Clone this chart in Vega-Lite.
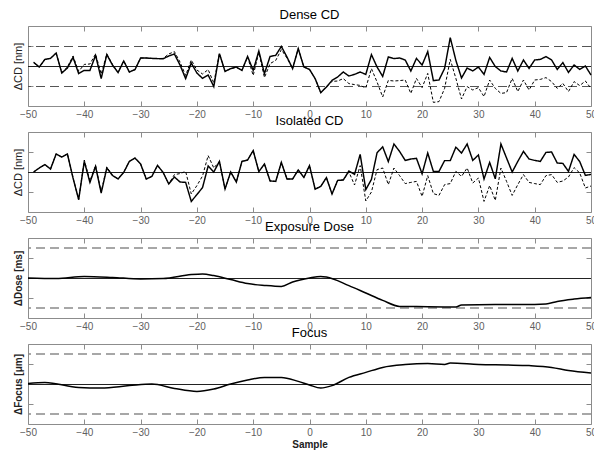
{
  "$schema": "https://vega.github.io/schema/vega-lite/v6.json",
  "padding": {"left": 12, "top": 8, "right": 0, "bottom": 0},
  "spacing": 26,
  "bounds": "flush",
  "config": {
    "view": {"stroke": "#8c8c8c", "strokeWidth": 1},
    "font": "Liberation Sans",
    "axis": {"grid": false, "domain": false, "tickColor": "#8c8c8c", "tickSize": -5, "labelPadding": 8, "labelFont": "Liberation Sans", "labelFontSize": 10, "labelColor": "#606060", "titleFont": "Liberation Sans", "titleColor": "#222222", "labelFlush": false, "labelOverlap": false},
    "title": {"fontSize": 13, "fontWeight": "normal", "font": "Liberation Sans", "color": "#000000", "offset": 4}
  },
  "datasets": {
    "dense": [
      {"s":-49,"a":0.18,"b":0.18},{"s":-48,"a":-0.05,"b":-0.05},{"s":-47,"a":0.33,"b":0.33},{"s":-46,"a":0.38,"b":0.38},{"s":-45,"a":0.65,"b":0.65},
      {"s":-44,"a":-0.35,"b":-0.33},{"s":-43,"a":-0.1,"b":-0.05},{"s":-42,"a":0.43,"b":0.5},{"s":-41,"a":-0.38,"b":-0.27},{"s":-40,"a":-0.22,"b":0.08},
      {"s":-39,"a":-0.22,"b":0.1},{"s":-38,"a":0.53,"b":0.6},{"s":-37,"a":-0.63,"b":-0.4},{"s":-36,"a":0.57,"b":0.6},{"s":-35,"a":0.05,"b":0.08},
      {"s":-34,"a":-0.33,"b":-0.3},{"s":-33,"a":0.25,"b":0.25},{"s":-32,"a":-0.3,"b":-0.3},{"s":-31,"a":-0.18,"b":-0.18},{"s":-30,"a":0.4,"b":0.4},
      {"s":-29,"a":0.4,"b":0.4},{"s":-28,"a":0.38,"b":0.38},{"s":-27,"a":0.37,"b":0.37},{"s":-26,"a":0.36,"b":0.38},{"s":-25,"a":0.5,"b":0.6},
      {"s":-24,"a":0.6,"b":0.72},{"s":-23,"a":0.05,"b":0.2},{"s":-22,"a":-0.63,"b":-0.47},{"s":-21,"a":0.15,"b":0.3},{"s":-20,"a":-0.35,"b":-0.2},
      {"s":-19,"a":-0.62,"b":-0.4},{"s":-18,"a":-0.45,"b":-0.18},{"s":-17,"a":-1.03,"b":-0.85},{"s":-16,"a":0.62,"b":0.62},{"s":-15,"a":-0.27,"b":-0.27},
      {"s":-14,"a":-0.13,"b":-0.13},{"s":-13,"a":-0.05,"b":-0.07},{"s":-12,"a":-0.22,"b":-0.22},{"s":-11,"a":0.48,"b":0.45},{"s":-10,"a":-0.22,"b":-0.47},
      {"s":-9,"a":0.75,"b":0.68},{"s":-8,"a":-0.38,"b":-0.58},{"s":-7,"a":0.48,"b":0.12},{"s":-6,"a":0.53,"b":0.28},{"s":-5,"a":0.98,"b":0.82},
      {"s":-4,"a":0.45,"b":0.4},{"s":-3,"a":-0.13,"b":-0.13},{"s":-2,"a":0.87,"b":0.87},{"s":-1,"a":-0.05,"b":-0.05},{"s":0,"a":-0.17,"b":-0.17},
      {"s":1,"a":-0.63,"b":-0.63},{"s":2,"a":-1.33,"b":-1.33},{"s":3,"a":-1.05,"b":-1.05},{"s":4,"a":-0.72,"b":-0.77},{"s":5,"a":-0.55,"b":-0.75},
      {"s":6,"a":-0.3,"b":-0.63},{"s":7,"a":-0.5,"b":-0.88},{"s":8,"a":-0.42,"b":-0.93},{"s":9,"a":-0.3,"b":-0.97},{"s":10,"a":-0.42,"b":-1.1},
      {"s":11,"a":0.57,"b":-0.13},{"s":12,"a":-0.05,"b":-0.8},{"s":13,"a":-0.52,"b":-1.55},{"s":14,"a":0.45,"b":-0.72},{"s":15,"a":0.37,"b":-0.75},
      {"s":16,"a":0.4,"b":-0.73},{"s":17,"a":0.3,"b":-0.7},{"s":18,"a":-0.25,"b":-1.37},{"s":19,"a":0.38,"b":-0.62},{"s":20,"a":0.05,"b":-1.08},
      {"s":21,"a":0.72,"b":-0.37},{"s":22,"a":-0.73,"b":-1.82},{"s":23,"a":-0.7,"b":-1.78},{"s":24,"a":-0.12,"b":-1.12},{"s":25,"a":1.42,"b":0.33},
      {"s":26,"a":0.28,"b":-0.62},{"s":27,"a":-0.6,"b":-1.65},{"s":28,"a":-0.1,"b":-1.03},{"s":29,"a":-0.25,"b":-1.2},{"s":30,"a":-0.05,"b":-1.08},
      {"s":31,"a":-0.42,"b":-1.53},{"s":32,"a":0.43,"b":-0.7},{"s":33,"a":-0.03,"b":-1.12},{"s":34,"a":-0.25,"b":-1.37},{"s":35,"a":-0.3,"b":-1.33},
      {"s":36,"a":0.38,"b":-0.62},{"s":37,"a":-0.25,"b":-1.28},{"s":38,"a":0.3,"b":-0.7},{"s":39,"a":-0.12,"b":-1.2},{"s":40,"a":0.3,"b":-0.7},
      {"s":41,"a":0.33,"b":-0.67},{"s":42,"a":0.47,"b":-0.58},{"s":43,"a":0.3,"b":-0.78},{"s":44,"a":-0.17,"b":-1.12},{"s":45,"a":0.17,"b":-0.87},
      {"s":46,"a":-0.32,"b":-1.28},{"s":47,"a":0.05,"b":-0.78},{"s":48,"a":-0.17,"b":-0.98},{"s":49,"a":0.0,"b":-0.75},{"s":50,"a":-0.45,"b":-1.12}
    ],
    "iso": [
      {"s":-49,"a":0.0,"b":0.0},{"s":-48,"a":0.2,"b":0.2},{"s":-47,"a":0.37,"b":0.37},{"s":-46,"a":0.15,"b":0.15},{"s":-45,"a":0.9,"b":0.9},
      {"s":-44,"a":0.75,"b":0.75},{"s":-43,"a":0.9,"b":0.9},{"s":-42,"a":-0.3,"b":-0.3},{"s":-41,"a":-1.38,"b":-1.38},{"s":-40,"a":0.53,"b":0.6},
      {"s":-39,"a":-0.52,"b":-0.45},{"s":-38,"a":0.28,"b":0.33},{"s":-37,"a":-1.05,"b":-1.0},{"s":-36,"a":0.2,"b":0.25},{"s":-35,"a":-0.17,"b":-0.17},
      {"s":-34,"a":-0.35,"b":-0.35},{"s":-33,"a":-0.02,"b":-0.02},{"s":-32,"a":0.53,"b":0.53},{"s":-31,"a":0.7,"b":0.7},{"s":-30,"a":0.4,"b":0.4},
      {"s":-29,"a":-0.35,"b":-0.35},{"s":-28,"a":-0.22,"b":-0.22},{"s":-27,"a":0.33,"b":0.33},{"s":-26,"a":-0.02,"b":-0.02},{"s":-25,"a":-0.6,"b":-0.6},
      {"s":-24,"a":-0.25,"b":-0.13},{"s":-23,"a":-0.5,"b":-0.08},{"s":-22,"a":-0.52,"b":0.03},{"s":-21,"a":-1.47,"b":-1.1},{"s":-20,"a":-1.13,"b":-0.68},
      {"s":-19,"a":-0.78,"b":-0.2},{"s":-18,"a":0.3,"b":0.82},{"s":-17,"a":0.0,"b":0.2},{"s":-16,"a":0.53,"b":0.53},{"s":-15,"a":-0.85,"b":-0.85},
      {"s":-14,"a":0.0,"b":0.0},{"s":-13,"a":-0.5,"b":-0.5},{"s":-12,"a":0.53,"b":0.53},{"s":-11,"a":0.6,"b":0.6},{"s":-10,"a":1.07,"b":1.07},
      {"s":-9,"a":0.02,"b":0.02},{"s":-8,"a":0.4,"b":0.4},{"s":-7,"a":-0.45,"b":-0.45},{"s":-6,"a":-0.47,"b":-0.47},{"s":-5,"a":0.48,"b":0.48},
      {"s":-4,"a":-0.35,"b":-0.35},{"s":-3,"a":-0.35,"b":-0.35},{"s":-2,"a":0.1,"b":0.1},{"s":-1,"a":-0.27,"b":-0.27},{"s":0,"a":0.32,"b":0.32},
      {"s":1,"a":-0.86,"b":-0.86},{"s":2,"a":-0.72,"b":-0.72},{"s":3,"a":-0.28,"b":-0.28},{"s":4,"a":-1.1,"b":-1.1},{"s":5,"a":-0.42,"b":-0.42},
      {"s":6,"a":-0.4,"b":-0.4},{"s":7,"a":0.05,"b":0.0},{"s":8,"a":-0.12,"b":-0.65},{"s":9,"a":0.88,"b":0.32},{"s":10,"a":-0.88,"b":-1.45},
      {"s":11,"a":-0.37,"b":-1.0},{"s":12,"a":0.96,"b":0.12},{"s":13,"a":1.26,"b":0.2},{"s":14,"a":0.52,"b":-0.63},{"s":15,"a":1.4,"b":0.2},
      {"s":16,"a":1.03,"b":-0.18},{"s":17,"a":0.58,"b":-0.58},{"s":18,"a":0.65,"b":-0.52},{"s":19,"a":0.68,"b":-0.47},{"s":20,"a":-0.09,"b":-1.22},
      {"s":21,"a":0.95,"b":-0.18},{"s":22,"a":0.03,"b":-1.08},{"s":23,"a":0.03,"b":-1.17},{"s":24,"a":0.57,"b":-0.63},{"s":25,"a":0.57,"b":-0.58},
      {"s":26,"a":1.24,"b":0.03},{"s":27,"a":0.95,"b":-0.22},{"s":28,"a":1.4,"b":0.2},{"s":29,"a":0.58,"b":-0.55},{"s":30,"a":0.85,"b":-0.3},
      {"s":31,"a":-0.35,"b":-1.47},{"s":32,"a":0.48,"b":-0.68},{"s":33,"a":-0.34,"b":-1.42},{"s":34,"a":1.4,"b":0.2},{"s":35,"a":0.7,"b":-0.47},
      {"s":36,"a":0.0,"b":-1.17},{"s":37,"a":0.53,"b":-0.63},{"s":38,"a":1.03,"b":-0.13},{"s":39,"a":0.65,"b":-0.52},{"s":40,"a":0.58,"b":-0.58},
      {"s":41,"a":0.53,"b":-0.63},{"s":42,"a":0.98,"b":-0.18},{"s":43,"a":1.0,"b":-0.13},{"s":44,"a":0.45,"b":-0.52},{"s":45,"a":0.43,"b":-0.45},
      {"s":46,"a":0.03,"b":-0.25},{"s":47,"a":0.88,"b":0.22},{"s":48,"a":0.52,"b":-0.05},{"s":49,"a":-0.17,"b":-0.8},{"s":50,"a":-0.12,"b":-0.7}
    ],
    "dose": [
      {"s":-50,"v":0.0},{"s":-45,"v":-0.03},{"s":-40,"v":0.08},{"s":-35,"v":0.03},{"s":-30,"v":-0.05},{"s":-26,"v":-0.03},
      {"s":-21,"v":0.17},{"s":-19,"v":0.2},{"s":-17,"v":0.12},{"s":-14,"v":-0.08},{"s":-11,"v":-0.28},{"s":-8,"v":-0.37},
      {"s":-5,"v":-0.42},{"s":-3,"v":-0.2},{"s":0,"v":0.0},{"s":2,"v":0.08},{"s":3,"v":0.05},{"s":7,"v":-0.38},
      {"s":10,"v":-0.75},{"s":13,"v":-1.12},{"s":16,"v":-1.42},{"s":19,"v":-1.43},{"s":26,"v":-1.45},{"s":27,"v":-1.35},
      {"s":33,"v":-1.33},{"s":38,"v":-1.33},{"s":42,"v":-1.3},{"s":44,"v":-1.17},{"s":47,"v":-1.05},{"s":50,"v":-0.97}
    ],
    "focus": [
      {"s":-50,"v":0.03},{"s":-47,"v":0.08},{"s":-41,"v":-0.17},{"s":-37,"v":-0.2},{"s":-32,"v":-0.08},{"s":-28,"v":0.0},
      {"s":-24,"v":-0.22},{"s":-20,"v":-0.37},{"s":-17,"v":-0.25},{"s":-14,"v":0.0},{"s":-11,"v":0.2},{"s":-8,"v":0.33},
      {"s":-5,"v":0.33},{"s":-2,"v":0.13},{"s":0,"v":-0.05},{"s":2,"v":-0.2},{"s":4,"v":-0.08},{"s":7,"v":0.33},
      {"s":10,"v":0.58},{"s":13,"v":0.83},{"s":17,"v":0.97},{"s":21,"v":1.02},{"s":24,"v":0.98},{"s":25,"v":1.05},
      {"s":30,"v":0.98},{"s":35,"v":0.95},{"s":39,"v":0.92},{"s":43,"v":0.83},{"s":46,"v":0.67},{"s":50,"v":0.55}
    ],
    "lim1": [{"v":1},{"v":-1}],
    "lim15": [{"v":1.5},{"v":-1.5}]
  },
  "vconcat": [
    {
      "width": 563, "height": 80,
      "title": "Dense CD",
      "layer": [
        {"data": {"name": "lim1"}, "mark": {"type": "rule", "color": "#555555", "strokeDash": [9, 5], "strokeWidth": 1.2, "yOffset": 0.5},
         "encoding": {"y": {"field": "v", "type": "quantitative", "scale": {"domain": [-2, 2], "nice": false}, "axis": null}}},
        {"data": {"name": "lim1"}, "mark": {"type": "rule", "color": "#222222", "strokeWidth": 1, "yOffset": 0.5},
         "encoding": {
           "y": {"datum": 0, "type": "quantitative", "scale": {"domain": [-2, 2], "nice": false}, "axis": {"orient": "right", "values": [-1, 1], "labels": false, "title": null}},
           "x": {"datum": -50, "type": "quantitative", "scale": {"domain": [-50, 50], "nice": false}, "axis": {"orient": "top", "values": [-50,-40,-30,-20,-10,0,10,20,30,40,50], "labels": false, "title": null}},
           "x2": {"datum": 50}}},
        {"data": {"name": "dense"}, "transform": [{"fold": ["a", "b"], "as": ["k", "v"]}],
         "mark": {"type": "line", "color": "#000000"},
         "encoding": {
           "x": {"field": "s", "type": "quantitative", "scale": {"domain": [-50, 50], "nice": false}, "axis": {"orient": "bottom", "values": [-50,-40,-30,-20,-10,0,10,20,30,40,50], "title": null}},
           "y": {"field": "v", "type": "quantitative", "scale": {"domain": [-2, 2], "nice": false}, "axis": {"orient": "left", "values": [-1, 1], "labels": false, "title": "ΔCD [nm]", "titleFontSize": 11, "titleFontWeight": "normal", "titlePadding": 4}},
           "strokeDash": {"field": "k", "type": "nominal", "scale": {"domain": ["a", "b"], "range": [[1, 0], [3, 2]]}, "legend": null},
           "strokeWidth": {"field": "k", "type": "nominal", "scale": {"domain": ["a", "b"], "range": [1.45, 1]}, "legend": null}}}
      ]
    },
    {
      "width": 563, "height": 80,
      "title": "Isolated CD",
      "layer": [
        {"data": {"name": "lim1"}, "mark": {"type": "rule", "color": "#222222", "strokeWidth": 1, "yOffset": 0.5},
         "encoding": {
           "y": {"datum": 0, "type": "quantitative", "scale": {"domain": [-2, 2], "nice": false}, "axis": {"orient": "right", "values": [-1, 1], "labels": false, "title": null}},
           "x": {"datum": -50, "type": "quantitative", "scale": {"domain": [-50, 50], "nice": false}, "axis": {"orient": "top", "values": [-50,-40,-30,-20,-10,0,10,20,30,40,50], "labels": false, "title": null}},
           "x2": {"datum": 50}}},
        {"data": {"name": "iso"}, "transform": [{"fold": ["a", "b"], "as": ["k", "v"]}],
         "mark": {"type": "line", "color": "#000000"},
         "encoding": {
           "x": {"field": "s", "type": "quantitative", "scale": {"domain": [-50, 50], "nice": false}, "axis": {"orient": "bottom", "values": [-50,-40,-30,-20,-10,0,10,20,30,40,50], "title": null}},
           "y": {"field": "v", "type": "quantitative", "scale": {"domain": [-2, 2], "nice": false}, "axis": {"orient": "left", "values": [-1, 1], "labels": false, "title": "ΔCD [nm]", "titleFontSize": 11, "titleFontWeight": "normal", "titlePadding": 4}},
           "strokeDash": {"field": "k", "type": "nominal", "scale": {"domain": ["a", "b"], "range": [[1, 0], [3, 2]]}, "legend": null},
           "strokeWidth": {"field": "k", "type": "nominal", "scale": {"domain": ["a", "b"], "range": [1.45, 1]}, "legend": null}}}
      ]
    },
    {
      "width": 563, "height": 80,
      "title": "Exposure Dose",
      "layer": [
        {"data": {"name": "lim15"}, "mark": {"type": "rule", "color": "#8a8a8a", "strokeDash": [9, 5], "strokeWidth": 1.5},
         "encoding": {"y": {"field": "v", "type": "quantitative", "scale": {"domain": [-2, 2], "nice": false}, "axis": null}}},
        {"data": {"name": "lim15"}, "mark": {"type": "rule", "color": "#222222", "strokeWidth": 1, "yOffset": 0.5},
         "encoding": {
           "y": {"datum": 0, "type": "quantitative", "scale": {"domain": [-2, 2], "nice": false}, "axis": {"orient": "right", "values": [-1, 1], "labels": false, "title": null}},
           "x": {"datum": -50, "type": "quantitative", "scale": {"domain": [-50, 50], "nice": false}, "axis": {"orient": "top", "values": [-50,-40,-30,-20,-10,0,10,20,30,40,50], "labels": false, "title": null}},
           "x2": {"datum": 50}}},
        {"data": {"name": "dose"},
         "mark": {"type": "line", "color": "#000000", "strokeWidth": 1.5, "interpolate": "monotone"},
         "encoding": {
           "x": {"field": "s", "type": "quantitative", "scale": {"domain": [-50, 50], "nice": false}, "axis": {"orient": "bottom", "values": [-50,-40,-30,-20,-10,0,10,20,30,40,50], "title": null}},
           "y": {"field": "v", "type": "quantitative", "scale": {"domain": [-2, 2], "nice": false}, "axis": {"orient": "left", "values": [-1, 1], "labels": false, "title": "ΔDose [ms]", "titleFontSize": 10, "titleFontWeight": "bold", "titlePadding": 4}}}}
      ]
    },
    {
      "width": 563, "height": 80,
      "title": "Focus",
      "layer": [
        {"data": {"name": "lim15"}, "mark": {"type": "rule", "color": "#8a8a8a", "strokeDash": [9, 5], "strokeWidth": 1.5},
         "encoding": {"y": {"field": "v", "type": "quantitative", "scale": {"domain": [-2, 2], "nice": false}, "axis": null}}},
        {"data": {"name": "lim15"}, "mark": {"type": "rule", "color": "#222222", "strokeWidth": 1, "yOffset": 0.5},
         "encoding": {
           "y": {"datum": 0, "type": "quantitative", "scale": {"domain": [-2, 2], "nice": false}, "axis": {"orient": "right", "values": [-1, 1], "labels": false, "title": null}},
           "x": {"datum": -50, "type": "quantitative", "scale": {"domain": [-50, 50], "nice": false}, "axis": {"orient": "top", "values": [-50,-40,-30,-20,-10,0,10,20,30,40,50], "labels": false, "title": null}},
           "x2": {"datum": 50}}},
        {"data": {"name": "focus"},
         "mark": {"type": "line", "color": "#000000", "strokeWidth": 1.5, "interpolate": "monotone"},
         "encoding": {
           "x": {"field": "s", "type": "quantitative", "scale": {"domain": [-50, 50], "nice": false}, "axis": {"orient": "bottom", "values": [-50,-40,-30,-20,-10,0,10,20,30,40,50], "title": "Sample", "titleFontSize": 10, "titleFontWeight": "bold", "titlePadding": 2}},
           "y": {"field": "v", "type": "quantitative", "scale": {"domain": [-2, 2], "nice": false}, "axis": {"orient": "left", "values": [-1, 1], "labels": false, "title": "ΔFocus [μm]", "titleFontSize": 10, "titleFontWeight": "bold", "titlePadding": 4}}}}
      ]
    }
  ]
}
